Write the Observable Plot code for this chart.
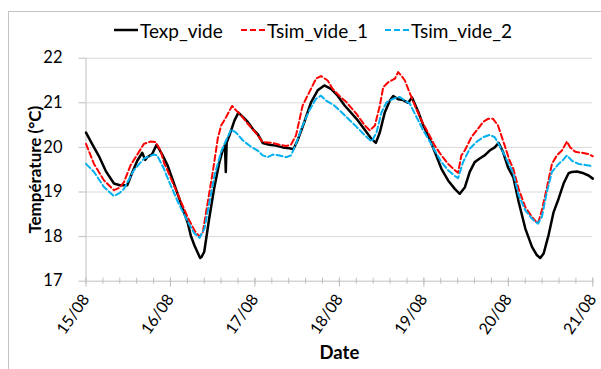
<!DOCTYPE html>
<html><head><meta charset="utf-8">
<script src="https://cdn.jsdelivr.net/npm/d3@7"></script>
<script src="https://cdn.jsdelivr.net/npm/@observablehq/plot@0.6"></script>
<style>
body{margin:0;background:#fff;font-family:Lato,"Open Sans",sans-serif}
#wrap{position:relative;width:601px;height:369px;overflow:hidden;background:#fff}
#frame{position:absolute;left:8px;top:11px;width:800px;height:600px;border:1px solid #c4c4c4;box-sizing:border-box;pointer-events:none}
#legend{position:relative;height:45px;width:601px}
.item{position:absolute;top:20px;height:20px;display:flex;align-items:center;font-size:19px;color:#000;white-space:nowrap}
.item svg{margin-right:2px}
#chart{position:relative}
</style></head>
<body>
<div id="wrap">
<div id="frame"></div>
<div id="legend"></div>
<div id="chart"></div>
</div>
<script>
// Series names and axis texts
const seriesNames = ["Texp_vide", "Tsim_vide_1", "Tsim_vide_2"];
const dateLabels = ["15/08", "16/08", "17/08", "18/08", "19/08", "20/08", "21/08"];
const yTicks = [17, 18, 19, 20, 21, 22];
const xTitle = "Date";
const yTitle = "Température (°C)";

// Time in days after 15/08 00:00, temperatures in °C
const texpT = [0,0.08,0.154,0.24,0.331,0.40,0.488,0.55,0.607,0.666,0.70,0.725,0.784,0.835,0.90,0.965,1.04,1.123,1.206,1.241,1.284,1.32,1.351,1.37,1.40,1.458,1.517,1.58,1.62,1.645,1.655,1.665,1.698,1.757,1.805,1.86,1.915,1.98,2.033,2.092,2.171,2.25,2.329,2.407,2.455,2.506,2.585,2.664,2.743,2.821,2.90,2.979,3.062,3.203,3.322,3.381,3.432,3.479,3.538,3.598,3.637,3.696,3.755,3.814,3.86,3.933,3.992,4.05,4.129,4.208,4.287,4.366,4.425,4.484,4.543,4.602,4.661,4.72,4.779,4.839,4.886,4.937,4.996,5.059,5.122,5.201,5.28,5.339,5.378,5.418,5.477,5.536,5.595,5.654,5.713,5.753,5.812,5.891,5.95,6.0];
const texpV = [20.33,20.05,19.8,19.45,19.19,19.15,19.15,19.45,19.7,19.88,19.72,19.78,19.85,20.06,19.85,19.6,19.2,18.75,18.3,18.02,17.8,17.65,17.52,17.55,17.66,18.4,19.08,19.67,19.95,20.05,19.45,20.1,20.27,20.6,20.78,20.68,20.57,20.4,20.3,20.1,20.06,20.04,20.0,19.98,19.96,20.16,20.57,21.01,21.28,21.39,21.31,21.16,20.94,20.64,20.34,20.19,20.10,20.34,20.79,21.05,21.15,21.08,21.06,21.0,21.12,20.8,20.5,20.27,19.9,19.52,19.26,19.07,18.96,19.1,19.45,19.67,19.75,19.82,19.93,20.0,20.1,19.9,19.55,19.33,18.78,18.18,17.77,17.58,17.52,17.62,18.04,18.55,18.85,19.19,19.42,19.45,19.46,19.42,19.37,19.3];

const tsim1T = [0,0.095,0.213,0.331,0.40,0.449,0.528,0.607,0.686,0.764,0.823,0.883,0.926,0.961,1.084,1.202,1.29,1.345,1.383,1.442,1.501,1.56,1.60,1.659,1.729,1.777,1.836,1.915,2.0,2.092,2.21,2.289,2.368,2.427,2.486,2.565,2.644,2.723,2.782,2.861,2.92,2.998,3.085,3.203,3.302,3.361,3.42,3.479,3.519,3.578,3.657,3.696,3.736,3.775,3.814,3.893,3.972,4.05,4.129,4.208,4.287,4.366,4.405,4.444,4.484,4.563,4.642,4.701,4.76,4.819,4.878,4.957,5.016,5.059,5.122,5.201,5.28,5.351,5.398,5.457,5.516,5.575,5.634,5.694,5.733,5.792,5.871,5.95,6.0];
const tsim1V = [20.08,19.63,19.26,19.04,19.1,19.22,19.6,19.84,20.08,20.13,20.12,19.93,19.64,19.5,18.96,18.44,18.12,18.0,18.1,18.78,19.45,20.2,20.49,20.68,20.93,20.83,20.72,20.53,20.35,20.12,20.1,20.06,20.03,20.06,20.27,20.94,21.24,21.54,21.6,21.5,21.31,21.16,21.01,20.75,20.49,20.38,20.49,20.94,21.35,21.46,21.54,21.69,21.6,21.5,21.31,20.94,20.6,20.33,20.04,19.82,19.63,19.49,19.43,19.82,19.93,20.23,20.42,20.57,20.64,20.64,20.49,20.04,19.7,19.52,19.07,18.66,18.44,18.29,18.6,19.1,19.63,19.82,19.93,20.13,20.0,19.9,19.88,19.85,19.8];

const tsim2T = [0,0.095,0.213,0.331,0.40,0.449,0.567,0.686,0.804,0.843,0.922,0.969,1.087,1.206,1.284,1.344,1.403,1.462,1.521,1.60,1.659,1.718,1.777,1.856,1.955,2.033,2.092,2.151,2.21,2.289,2.368,2.427,2.486,2.565,2.644,2.723,2.782,2.841,2.939,3.062,3.203,3.302,3.381,3.44,3.499,3.558,3.637,3.716,3.775,3.834,3.913,3.992,4.05,4.129,4.208,4.287,4.366,4.405,4.464,4.543,4.622,4.701,4.779,4.839,4.917,4.996,5.059,5.122,5.201,5.28,5.351,5.398,5.457,5.516,5.595,5.654,5.694,5.753,5.831,5.93,6.0];
const tsim2V = [19.63,19.45,19.11,18.91,18.98,19.07,19.49,19.75,19.84,19.82,19.52,19.3,18.78,18.33,18.07,17.97,18.18,18.78,19.37,19.9,20.16,20.4,20.33,20.16,20.01,19.93,19.82,19.78,19.84,19.82,19.78,19.82,20.08,20.49,20.83,21.09,21.16,21.05,20.94,20.72,20.46,20.27,20.13,20.34,20.79,21.01,21.09,21.13,21.05,20.98,20.68,20.38,20.2,19.93,19.67,19.49,19.36,19.31,19.67,19.97,20.12,20.23,20.28,20.23,19.97,19.67,19.42,18.93,18.59,18.4,18.29,18.45,19.0,19.45,19.63,19.73,19.82,19.7,19.63,19.6,19.58];

const colors = ["#000000", "#ff0000", "#00b0f0"];
const dashes = [null, "6,3", "6,3"];
const widths = [2.5, 2, 2];

const toRows = (ts, vs) => ts.map((t, i) => ({t, v: vs[i]}));
const series = [toRows(texpT, texpV), toRows(tsim1T, tsim1V), toRows(tsim2T, tsim2V)];

// Legend
const legend = document.getElementById("legend");
const legendX = [114, 241, 385];
seriesNames.forEach((name, i) => {
  const d = document.createElement("div");
  d.className = "item";
  d.style.left = legendX[i] + "px";
  d.innerHTML = `<svg width="24" height="6"><line x1="0" x2="24" y1="3" y2="3" stroke="${colors[i]}" stroke-width="${widths[i]}" ${dashes[i] ? `stroke-dasharray="${dashes[i]}"` : ""}/></svg><span>${name}</span>`;
  legend.appendChild(d);
});

const major = dateLabels.map((_, i) => i);
const minor = d3.range(0, 6.0001, 0.2);

const chart = Plot.plot({
  width: 601,
  height: 324,
  marginLeft: 85.5,
  marginRight: 8.7,
  marginTop: 12.7,
  marginBottom: 88.3,
  style: {fontFamily: "Lato, 'Open Sans', sans-serif", fontSize: "16.5px", background: "transparent", color: "#000", overflow: "visible"},
  x: {domain: [0, 6]},
  y: {domain: [17, 22]},
  marks: [
    Plot.gridY(yTicks.slice(1), {stroke: "#d9d9d9", strokeOpacity: 1, strokeWidth: 1}),
    Plot.ruleY([17], {stroke: "#bfbfbf"}),
    Plot.ruleX([0], {stroke: "#bfbfbf"}),
    Plot.axisY(yTicks, {tickSize: 7, tickPadding: 16.5, stroke: "#bfbfbf", label: null, fontSize: 16.5}),
    Plot.axisX(minor, {tickSize: 6, dy: -3, tickFormat: () => "", stroke: "#bfbfbf", label: null}),
    Plot.axisX(major, {tickSize: 9, dy: -3, tickPadding: 9, tickRotate: -55, tickFormat: i => dateLabels[i], stroke: "#bfbfbf", label: null, fontSize: 16}),
    Plot.text([yTitle], {frameAnchor: "left", textAnchor: "middle", dx: -50, rotate: -90, fontWeight: "bold", fontSize: 17}),
    Plot.text([xTitle], {frameAnchor: "bottom", textAnchor: "middle", dy: 78, fontWeight: "bold", fontSize: 18.5}),
    ...series.map((rows, i) => Plot.line(rows, {x: "t", y: "v", stroke: colors[i], strokeWidth: widths[i], strokeDasharray: dashes[i] || undefined}))
  ]
});
document.getElementById("chart").appendChild(chart);
</script>
</body></html>
